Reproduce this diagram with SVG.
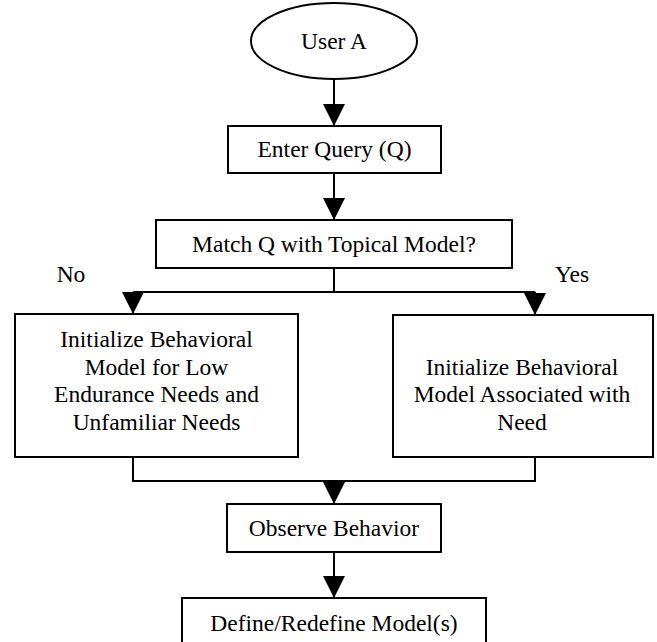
<svg xmlns="http://www.w3.org/2000/svg" width="657" height="642" viewBox="0 0 657 642" font-family="'Liberation Serif', 'DejaVu Serif', serif">
  <style>
    .box { fill: #ffffff; stroke: #000000; stroke-width: 2; }
    .wire { fill: none; stroke: #000000; stroke-width: 2; }
    .label { font-size: 23.5px; fill: #000000; text-anchor: middle; }
  </style>
  <defs>
    <marker id="arrow" markerUnits="userSpaceOnUse" markerWidth="22" markerHeight="22" refX="20" refY="10" orient="auto" viewBox="0 0 20 20">
      <path d="M0,0 L20,10 L0,20 Z" fill="#000000"/>
    </marker>
  </defs>
  <rect width="657" height="642" fill="#ffffff"/>

  <g id="connectors">
    <line class="wire" x1="334" y1="79" x2="334" y2="126" marker-end="url(#arrow)"/>
    <line class="wire" x1="334" y1="173" x2="334" y2="220" marker-end="url(#arrow)"/>
    <line class="wire" x1="334" y1="268" x2="334" y2="292"/>
    <line class="wire" x1="133" y1="292" x2="535" y2="292"/>
    <line class="wire" x1="133" y1="292" x2="133" y2="314" marker-end="url(#arrow)"/>
    <line class="wire" x1="535" y1="292" x2="535" y2="315" marker-end="url(#arrow)"/>
    <polyline class="wire" points="133,457 133,481 535,481 535,457"/>
    <line class="wire" x1="334" y1="481" x2="334" y2="504" marker-end="url(#arrow)"/>
    <line class="wire" x1="334" y1="552" x2="334" y2="598" marker-end="url(#arrow)"/>
  </g>

  <g id="user-a">
    <ellipse class="box" cx="334" cy="41" rx="83" ry="38"/>
    <text class="label" x="334" y="49">User A</text>
  </g>

  <g id="enter-query">
    <rect class="box" x="228" y="126" width="213" height="47"/>
    <text class="label" x="334.5" y="157">Enter Query (Q)</text>
  </g>

  <g id="match-topical">
    <rect class="box" x="156" y="220" width="356" height="48"/>
    <text class="label" x="334" y="252">Match Q with Topical Model?</text>
  </g>

  <g id="label-no">
    <text class="label" x="71" y="282">No</text>
  </g>
  <g id="label-yes">
    <text class="label" x="572" y="282">Yes</text>
  </g>

  <g id="init-low-endurance">
    <rect class="box" x="15" y="314" width="283" height="143"/>
    <text class="label" x="156.5" y="347">Initialize Behavioral</text>
    <text class="label" x="156.5" y="375">Model for Low</text>
    <text class="label" x="156.5" y="402">Endurance Needs and</text>
    <text class="label" x="156.5" y="430">Unfamiliar Needs</text>
  </g>

  <g id="init-associated">
    <rect class="box" x="393" y="315" width="260" height="142"/>
    <text class="label" x="522" y="375">Initialize Behavioral</text>
    <text class="label" x="522" y="402">Model Associated with</text>
    <text class="label" x="522" y="430">Need</text>
  </g>

  <g id="observe-behavior">
    <rect class="box" x="227" y="504" width="214" height="48"/>
    <text class="label" x="334" y="536">Observe Behavior</text>
  </g>

  <g id="define-models">
    <rect class="box" x="182" y="598" width="304" height="60"/>
    <text class="label" x="334" y="631">Define/Redefine Model(s)</text>
  </g>
</svg>
